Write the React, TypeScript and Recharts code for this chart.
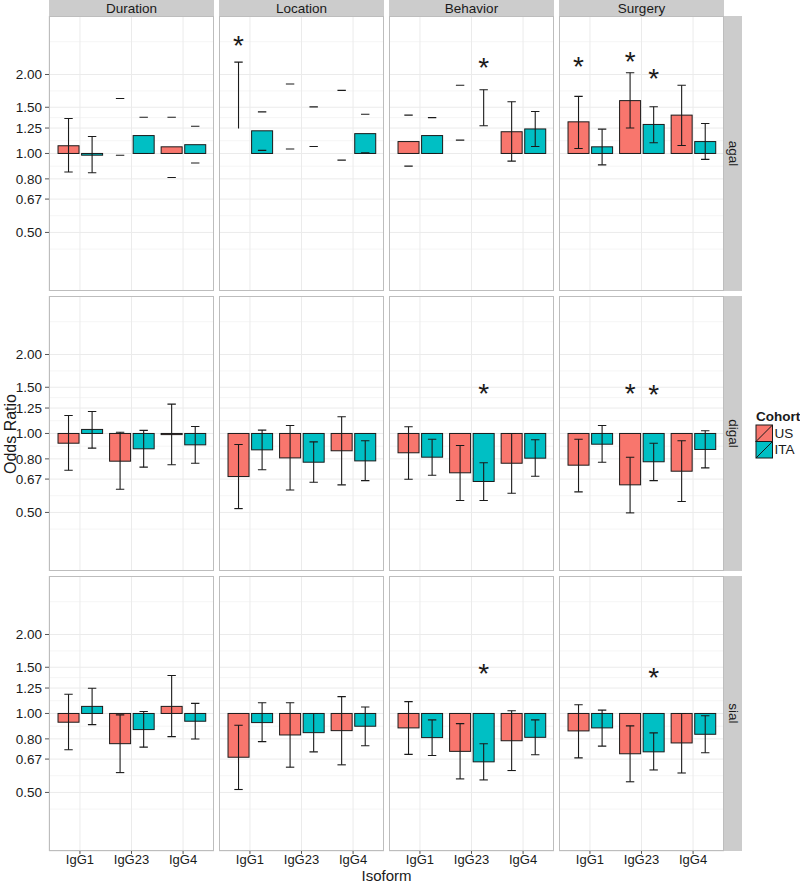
import React from 'react';
import { BarChart, Bar, XAxis, YAxis, CartesianGrid } from 'recharts';

const FONT = '"Liberation Sans", Arial, Helvetica, sans-serif';

const isoforms = ['IgG1', 'IgG23', 'IgG4'];
const measures = ['Duration', 'Location', 'Behavior', 'Surgery'];
const glycans = ['agal', 'digal', 'sial'];

const yTicks = [0.5, 0.67, 0.8, 1, 1.25, 1.5, 2];
const yMinor = [0.373, 0.432, 0.579, 0.732, 0.894, 1.118, 1.369, 1.732, 2.309, 2.667];
const yDomain = [0.299, 3.342];

// one inner array per measure (Duration, Location, Behavior, Surgery), values for IgG1, IgG23, IgG4
// odds ratio (null = no bar drawn)
const agalOrUS = [[1.07, null, 1.06], [null, null, null], [1.11, null, 1.21], [1.32, 1.59, 1.4]];
const agalOrITA = [[0.985, 1.17, 1.08], [1.22, null, 1.19], [1.17, null, 1.24], [1.06, 1.29, 1.11]];
const agalLoUS = [[0.85, 0.985, 0.81], [1.245, 1.04, 0.943], [0.895, 1.124, 0.935], [1.045, 1.25, 1.073]];
const agalHiUS = [[1.36, 1.62, 1.375], [2.23, 1.84, 1.74], [1.4, 1.82, 1.574], [1.65, 2.03, 1.82]];
const agalLoITA = [[0.844, 1.0, 0.92], [1.027, 1.063, 1.006], [1.0, 1.275, 1.063], [0.905, 1.098, 0.949]];
const agalHiITA = [[1.16, 1.375, 1.27], [1.44, 1.505, 1.41], [1.37, 1.75, 1.446], [1.238, 1.506, 1.3]];
// error bar look: f = full, c = caps only, t = line with top cap
const agalKindUS = [['f', 'c', 'c'], ['t', 'c', 'c'], ['c', 'c', 'f'], ['f', 'f', 'f']];
const agalKindITA = [['f', 'c', 'c'], ['c', 'c', 'c'], ['c', 'f', 'f'], ['f', 'f', 'f']];
const agalStarUS = [[null, null, null], [2.73, null, null], [null, null, null], [2.28, 2.38, null]];
const agalStarITA = [[null, null, null], [null, null, null], [null, 2.26, null], [null, 2.04, null]];

const digalOrUS = [[0.918, 0.784, 0.99], [0.685, 0.807, 0.859], [0.844, 0.708, 0.77], [0.757, 0.637, 0.718]];
const digalOrITA = [[1.036, 0.874, 0.905], [0.866, 0.777, 0.786], [0.812, 0.656, 0.805], [0.91, 0.78, 0.869]];
const digalLoUS = [[0.724, 0.613, 0.76], [0.517, 0.609, 0.637], [0.669, 0.555, 0.592], [0.599, 0.498, 0.55]];
const digalHiUS = [[1.17, 1.01, 1.294], [0.908, 1.073, 1.158], [1.06, 0.9, 1.0], [0.951, 0.812, 0.938]];
const digalLoITA = [[0.879, 0.744, 0.77], [0.727, 0.652, 0.661], [0.693, 0.555, 0.687], [0.777, 0.661, 0.739]];
const digalHiITA = [[1.213, 1.027, 1.063], [1.03, 0.929, 0.938], [0.951, 0.773, 0.946], [1.073, 0.918, 1.024]];
const digalKindUS = [['f', 'f', 'f'], ['f', 'f', 'f'], ['f', 'f', 'f'], ['f', 'f', 'f']];
const digalKindITA = [['f', 'f', 'f'], ['f', 'f', 'f'], ['f', 'f', 'f'], ['f', 'f', 'f']];
const digalStarUS = [[null, null, null], [null, null, null], [null, null, null], [null, 1.51, null]];
const digalStarITA = [[null, null, null], [null, null, null], [null, 1.51, null], [null, 1.49, null]];

const sialOrUS = [[0.926, 0.767, 1.064], [0.681, 0.828, 0.86], [0.881, 0.717, 0.787], [0.858, 0.702, 0.772]];
const sialOrITA = [[1.064, 0.868, 0.934], [0.923, 0.845, 0.894], [0.809, 0.654, 0.811], [0.881, 0.714, 0.833]];
const sialLoUS = [[0.727, 0.595, 0.816], [0.513, 0.624, 0.637], [0.698, 0.563, 0.606], [0.677, 0.549, 0.593]];
const sialHiUS = [[1.183, 0.988, 1.396], [0.902, 1.099, 1.159], [1.109, 0.915, 1.024], [1.08, 0.897, 1.0]];
const sialLoITA = [[0.907, 0.744, 0.799], [0.781, 0.714, 0.753], [0.691, 0.558, 0.696], [0.751, 0.609, 0.708]];
const sialHiITA = [[1.248, 1.018, 1.093], [1.099, 1.0, 1.058], [0.945, 0.767, 0.945], [1.03, 0.843, 0.98]];
const sialKindUS = [['f', 'f', 'f'], ['f', 'f', 'f'], ['f', 'f', 'f'], ['f', 'f', 'f']];
const sialKindITA = [['f', 'f', 'f'], ['f', 'f', 'f'], ['f', 'f', 'f'], ['f', 'f', 'f']];
const sialStarUS = [[null, null, null], [null, null, null], [null, null, null], [null, null, null]];
const sialStarITA = [[null, null, null], [null, null, null], [null, 1.5, null], [null, 1.446, null]];

const orUS: any = { agal: agalOrUS, digal: digalOrUS, sial: sialOrUS };
const orITA: any = { agal: agalOrITA, digal: digalOrITA, sial: sialOrITA };
const loUS: any = { agal: agalLoUS, digal: digalLoUS, sial: sialLoUS };
const hiUS: any = { agal: agalHiUS, digal: digalHiUS, sial: sialHiUS };
const loITA: any = { agal: agalLoITA, digal: digalLoITA, sial: sialLoITA };
const hiITA: any = { agal: agalHiITA, digal: digalHiITA, sial: sialHiITA };
const kindUS: any = { agal: agalKindUS, digal: digalKindUS, sial: sialKindUS };
const kindITA: any = { agal: agalKindITA, digal: digalKindITA, sial: sialKindITA };
const starUS: any = { agal: agalStarUS, digal: digalStarUS, sial: sialStarUS };
const starITA: any = { agal: agalStarITA, digal: digalStarITA, sial: sialStarITA };

const US_FILL = '#F8766D';
const ITA_FILL = '#00BFC4';
const INK = '#1a1a1a';

// panel geometry
const PX = [49, 219, 389, 559];
const PY = [16, 296, 576];
const PW = 165;
const PH = 275;
const catPad = (PW / 3.2) * 0.1;

const span = (v: number | null) => (v == null ? null : [Math.min(1, v), Math.max(1, v)]);

const buildRows = (g: string, m: number) =>
  isoforms.map((iso, i) => ({
    iso,
    usBar: span(orUS[g][m][i]),
    itaBar: span(orITA[g][m][i]),
    usErr: [loUS[g][m][i], hiUS[g][m][i]],
    itaErr: [loITA[g][m][i], hiITA[g][m][i]],
    usKind: kindUS[g][m][i],
    itaKind: kindITA[g][m][i],
    usStar: starUS[g][m][i] == null ? null : [starUS[g][m][i] * 0.97, starUS[g][m][i]],
    itaStar: starITA[g][m][i] == null ? null : [starITA[g][m][i] * 0.97, starITA[g][m][i]],
  }));

const barShape = (fill: string, key: string) => (p: any) => {
  if (!p.payload || !p.payload[key]) return <g />;
  return (
    <rect x={p.x} y={p.y} width={p.width} height={Math.max(p.height, 0.8)}
      fill={fill} stroke={INK} strokeWidth={1} />
  );
};

const errShape = (key: string) => (p: any) => {
  const kind = p.payload ? p.payload[key] : 'f';
  const cx = p.x + p.width / 2;
  const h = p.width * 0.2;
  const top = p.y;
  const bot = p.y + p.height;
  return (
    <g stroke={INK} strokeWidth={1.1}>
      {kind !== 'c' && <line x1={cx} x2={cx} y1={top} y2={bot} />}
      <line x1={cx - h} x2={cx + h} y1={top} y2={top} />
      {kind !== 't' && <line x1={cx - h} x2={cx + h} y1={bot} y2={bot} />}
    </g>
  );
};

// star value marks the centre of the glyph
const starShape = (key: string) => (p: any) => {
  if (!p.payload || !p.payload[key]) return <g />;
  return (
    <text x={p.x + p.width / 2} y={p.y + 16} textAnchor="middle" fontSize={28}
      fontFamily={FONT} fill={INK}>*</text>
  );
};

const Panel = ({ g, r, c }: { g: string; r: number; c: number }) => {
  const isLeft = c === 0;
  const isBottom = r === 2;
  const yW = isLeft ? 49 : 0;
  const xH = isBottom ? 20 : 0;
  const data = buildRows(g, c);
  const tickFont = { fontSize: 13.5, fill: INK, fontFamily: FONT };
  return (
    <div style={{ position: 'absolute', left: PX[c] - yW, top: PY[r] }}>
      <BarChart width={PW + yW} height={PH + xH} data={data}
        margin={{ top: 0, right: 0, bottom: 0, left: 0 }}
        barCategoryGap="7.5%" barGap="5%">
        <XAxis xAxisId="bar" dataKey="iso" hide={!isBottom} height={xH}
          padding={{ left: catPad, right: catPad }} interval={0}
          axisLine={false} tickSize={3} tickMargin={1}
          tickLine={{ stroke: '#555' }} tick={{ ...tickFont, fontSize: 13 }} />
        <XAxis xAxisId="err" dataKey="iso" hide padding={{ left: catPad, right: catPad }} />
        <XAxis xAxisId="star" dataKey="iso" hide padding={{ left: catPad, right: catPad }} />
        <YAxis scale="log" domain={yDomain} allowDataOverflow hide={!isLeft} width={yW}
          ticks={yTicks} interval={0} tickFormatter={(v: number) => v.toFixed(2)}
          axisLine={false} tickSize={4} tickMargin={3}
          tickLine={{ stroke: '#555' }} tick={tickFont} />
        <YAxis yAxisId="minor" scale="log" domain={yDomain} allowDataOverflow hide ticks={yMinor} />
        <CartesianGrid xAxisId="bar" yAxisId="minor" vertical={false} stroke="#F5F5F5" />
        <CartesianGrid xAxisId="bar" stroke="#EBEBEB" />
        <Bar xAxisId="bar" dataKey={(d: any) => d.usBar ?? [1, 1]} shape={barShape(US_FILL, 'usBar')} isAnimationActive={false} />
        <Bar xAxisId="bar" dataKey={(d: any) => d.itaBar ?? [1, 1]} shape={barShape(ITA_FILL, 'itaBar')} isAnimationActive={false} />
        <Bar xAxisId="err" dataKey="usErr" shape={errShape('usKind')} isAnimationActive={false} />
        <Bar xAxisId="err" dataKey="itaErr" shape={errShape('itaKind')} isAnimationActive={false} />
        <Bar xAxisId="star" dataKey={(d: any) => d.usStar ?? [1, 1]} shape={starShape('usStar')} isAnimationActive={false} />
        <Bar xAxisId="star" dataKey={(d: any) => d.itaStar ?? [1, 1]} shape={starShape('itaStar')} isAnimationActive={false} />
      </BarChart>
    </div>
  );
};

export default function App() {
  return (
    <div style={{ position: 'absolute', left: 0, top: 0, width: 800, height: 884, background: '#fff', overflow: 'hidden', fontFamily: FONT }}>
      {glycans.map((g, r) => measures.map((m, c) => <Panel key={g + m} g={g} r={r} c={c} />))}
      <svg width={800} height={884} style={{ position: 'absolute', left: 0, top: 0, pointerEvents: 'none' }}
        fontFamily={FONT}>
        {measures.map((m, c) => (
          <g key={m}>
            <rect x={PX[c]} y={0} width={PW} height={PY[0]} fill="#CCCCCC" />
            <text x={PX[c] + PW / 2} y={12.5} textAnchor="middle" fontSize={13.5} fill={INK}>{m}</text>
          </g>
        ))}
        {glycans.map((g, r) => (
          <g key={g}>
            <rect x={PX[3] + PW} y={PY[r]} width={18} height={PH} fill="#CCCCCC" />
            <text x={PX[3] + PW + 9} y={PY[r] + PH / 2} textAnchor="middle" dominantBaseline="central"
              fontSize={13.5} fill={INK}
              transform={`rotate(90 ${PX[3] + PW + 9} ${PY[r] + PH / 2})`}>{g}</text>
          </g>
        ))}
        {glycans.map((g, r) => measures.map((m, c) => (
          <rect key={g + m + 'b'} x={PX[c] + 0.5} y={PY[r] + 0.5} width={PW - 1} height={PH - 1}
            fill="none" stroke="#BDBDBD" strokeWidth={1} />
        )))}
        <text x={15.5} y={434} textAnchor="middle" fontSize={16} fill={INK}
          transform="rotate(-90 15.5 434)">Odds Ratio</text>
        <text x={(PX[0] + PX[3] + PW) / 2} y={880.7} textAnchor="middle" fontSize={15} fill={INK}>Isoform</text>
        <text x={756} y={420.5} fontSize={13.5} fontWeight="bold" fill={INK}>Cohort</text>
        <rect x={756} y={425} width={16.5} height={16.5} fill={US_FILL} stroke={INK} strokeWidth={1} />
        <line x1={756} y1={441.5} x2={772.5} y2={425} stroke={INK} strokeWidth={1} />
        <rect x={756} y={441.5} width={16.5} height={16.5} fill={ITA_FILL} stroke={INK} strokeWidth={1} />
        <line x1={756} y1={458} x2={772.5} y2={441.5} stroke={INK} strokeWidth={1} />
        <text x={774.5} y={437.5} fontSize={13.5} fill={INK}>US</text>
        <text x={774.5} y={454} fontSize={13.5} fill={INK}>ITA</text>
      </svg>
    </div>
  );
}
